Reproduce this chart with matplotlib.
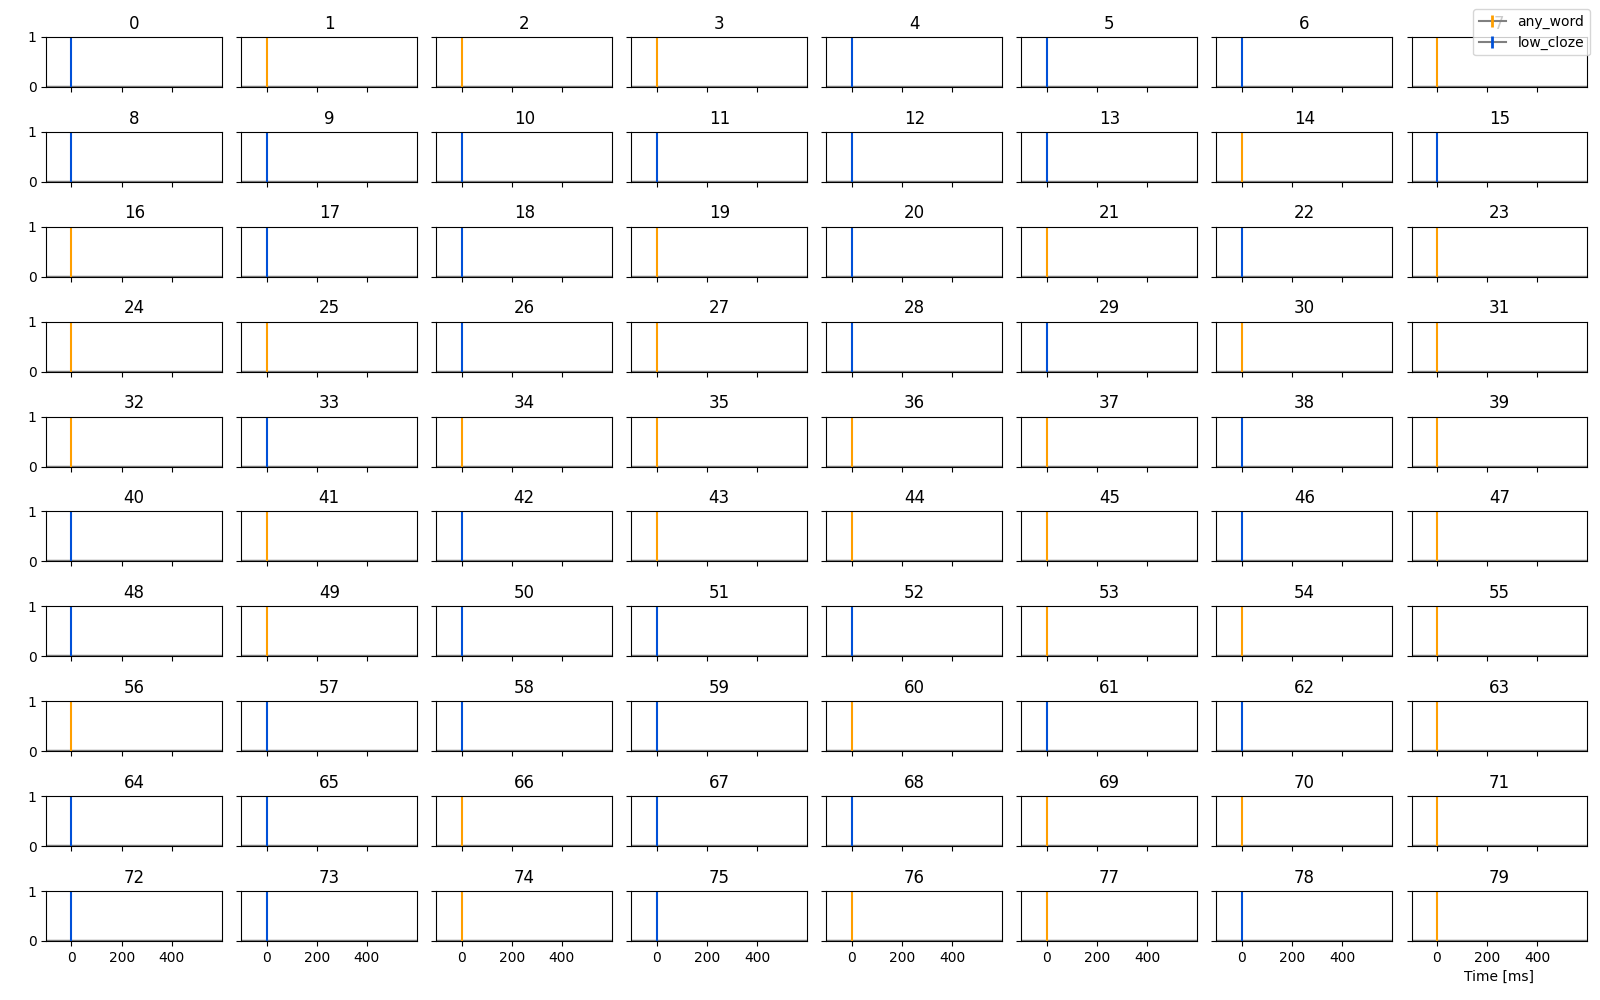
import matplotlib
matplotlib.use("Agg")
import matplotlib.pyplot as plt
from matplotlib.lines import Line2D

# which condition each of the 80 panels belongs to
conds = ['low_cloze', 'any_word', 'any_word', 'any_word', 'low_cloze', 'low_cloze', 'low_cloze', 'any_word',
         'low_cloze', 'low_cloze', 'low_cloze', 'low_cloze', 'low_cloze', 'low_cloze', 'any_word', 'low_cloze',
         'any_word', 'low_cloze', 'low_cloze', 'any_word', 'low_cloze', 'any_word', 'low_cloze', 'any_word',
         'any_word', 'any_word', 'low_cloze', 'any_word', 'low_cloze', 'low_cloze', 'any_word', 'any_word',
         'any_word', 'low_cloze', 'any_word', 'any_word', 'any_word', 'any_word', 'low_cloze', 'any_word',
         'low_cloze', 'any_word', 'low_cloze', 'any_word', 'any_word', 'any_word', 'low_cloze', 'any_word',
         'low_cloze', 'any_word', 'low_cloze', 'low_cloze', 'low_cloze', 'any_word', 'any_word', 'any_word',
         'any_word', 'low_cloze', 'low_cloze', 'low_cloze', 'any_word', 'low_cloze', 'low_cloze', 'any_word',
         'low_cloze', 'low_cloze', 'any_word', 'low_cloze', 'low_cloze', 'any_word', 'any_word', 'any_word',
         'low_cloze', 'low_cloze', 'any_word', 'low_cloze', 'any_word', 'any_word', 'low_cloze', 'any_word']

times = [-100, 600]        # ms, epoch window
baseline = [0, 0]          # flat response
onset = 0                  # event onset in ms
colors = {'any_word': '#ff9f00', 'low_cloze': '#0050d8'}

fig, axes = plt.subplots(10, 8, figsize=(16, 10), dpi=100, sharex=True, sharey=True)
for i, ax in enumerate(axes.flat):
    ax.plot(times, baseline, color='gray', lw=2.5)
    ax.vlines(onset, 0, 1, color=colors[conds[i]], lw=1.5)
    ax.set_title(str(i), fontsize=12)
    ax.set_xlim(times)
    ax.set_ylim(0, 1)
    ax.set_yticks([0, 1])
    ax.set_xticks([0, 200, 400])
    ax.tick_params(labelsize=10)

axes[-1, -1].set_xlabel("Time [ms]", fontsize=10)

handles = [Line2D([0], [0], color='gray', lw=1.5, marker='|', markersize=8,
                  markeredgecolor=colors[c], markeredgewidth=2) for c in ['any_word', 'low_cloze']]
fig.legend(handles, ['any_word', 'low_cloze'], loc='upper right',
           bbox_to_anchor=(0.998, 0.998), fontsize=10, handlelength=2.0)

plt.subplots_adjust(left=0.029, right=0.992, top=0.963, bottom=0.059, wspace=0.11, hspace=0.9)
plt.savefig('out.png')
